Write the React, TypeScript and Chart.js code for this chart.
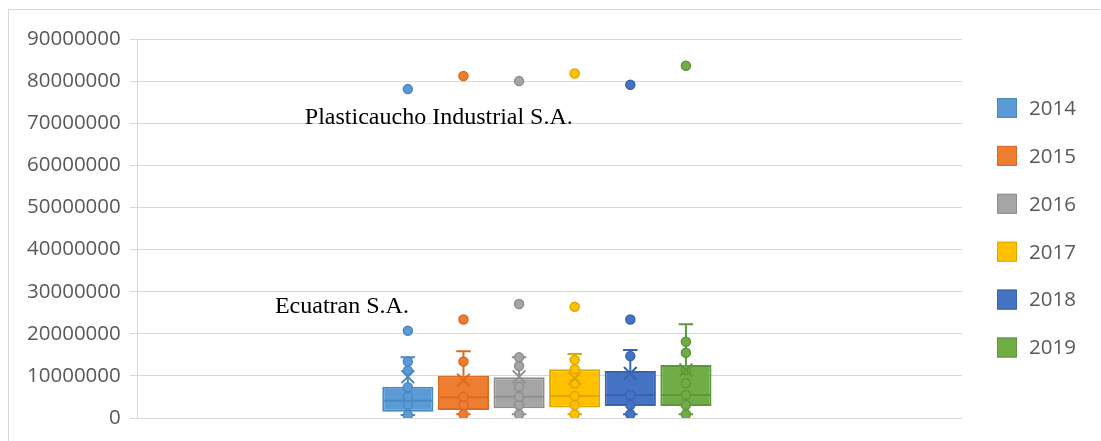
import React, { useEffect, useRef } from "react";
import { Chart, registerables } from "chart.js";

Chart.register(...registerables);

// ---------- data ----------
const years = ["2014", "2015", "2016", "2017", "2018", "2019"];
const positions = [1, 2, 3, 4, 5, 6];
const q1 = [1500000, 1900000, 2300000, 2500000, 2850000, 2850000];
const medians = [4100000, 4900000, 5060000, 5200000, 5460000, 5460000];
const q3 = [7430000, 10050000, 9670000, 11600000, 11160000, 12600000];
const whiskerMin = [700000, 870000, 870000, 870000, 870000, 870000];
const whiskerMax = [14400000, 15840000, 14400000, 15200000, 16150000, 22250000];
const means = [9800000, 9000000, 9800000, 9400000, 10600000, 11400000];
const innerPoints = [
  [700000, 3100000, 5060000, 7300000, 11200000, 13400000],
  [870000, 3100000, 5060000, 13400000],
  [870000, 3100000, 5060000, 7400000, 12350000, 14400000],
  [870000, 3100000, 5200000, 8200000, 11600000, 13800000],
  [870000, 3100000, 5460000, 14700000],
  [870000, 3100000, 5460000, 8240000, 11400000, 15500000, 18100000],
];
const outliers = [
  [20700000, 78100000],
  [23400000, 81200000],
  [27070000, 80000000],
  [26400000, 81800000],
  [23400000, 79150000],
  [83650000],
];
const yTickValues = [0, 10000000, 20000000, 30000000, 40000000, 50000000, 60000000, 70000000, 80000000, 90000000];
const annotationTexts = ["Plasticaucho Industrial S.A.", "Ecuatran S.A."];
const annotationX = [-0.852, -1.39];
const annotationY = [69800000, 25000000];

// ---------- styles ----------
const fillColors = ["#5B9BD5", "#ED7D31", "#A5A5A5", "#FFC000", "#4472C4", "#70AD47"];
const borderColors = ["#4A88C0", "#D96B22", "#8E8E8E", "#DDA800", "#3A63AD", "#5E973A"];
const capHalf = 0.13;
const medianHalf = 0.44;

const overlayPlugin = {
  id: "overlay",
  afterDatasetsDraw(chart: any) {
    const { ctx, scales } = chart;
    const x = scales.x;
    const y = scales.y;
    ctx.save();
    ctx.font = '24px "Liberation Serif"';
    ctx.fillStyle = "#000000";
    ctx.textBaseline = "alphabetic";
    ctx.textAlign = "left";
    annotationTexts.forEach((t, i) => {
      ctx.fillText(t, x.getPixelForValue(annotationX[i]), y.getPixelForValue(annotationY[i]));
    });
    // legend
    const boxX = chart.chartArea.right + 35;
    ctx.font = '20.5px "Open Sans"';
    ctx.textBaseline = "middle";
    years.forEach((yr, i) => {
      const cy = 98 + i * 47.9;
      ctx.fillStyle = fillColors[i];
      ctx.fillRect(boxX, cy - 10, 20, 20);
      ctx.strokeStyle = borderColors[i];
      ctx.lineWidth = 1;
      ctx.strokeRect(boxX + 0.5, cy - 9.5, 19, 19);
      ctx.fillStyle = "#595959";
      ctx.fillText(yr, boxX + 32, cy + 1);
    });
    ctx.restore();
  },
};

export default function App() {
  const ref = useRef<HTMLCanvasElement | null>(null);
  useEffect(() => {
    if (!ref.current) return;
    const datasets: any[] = [];
    years.forEach((yr, i) => {
      const p = positions[i];
      datasets.push({
        type: "bar",
        label: yr,
        data: [{ x: p, y: [q1[i], q3[i]] }],
        backgroundColor: fillColors[i],
        borderColor: borderColors[i],
        borderWidth: 2,
        borderSkipped: false,
        grouped: false,
        barPercentage: 0.92,
        categoryPercentage: 1,
        order: 5,
      });
      datasets.push({
        type: "line",
        label: yr + " whiskers",
        data: [
          { x: p - capHalf, y: whiskerMax[i] },
          { x: p + capHalf, y: whiskerMax[i] },
          { x: p, y: null },
          { x: p, y: whiskerMax[i] },
          { x: p, y: q3[i] },
          { x: p, y: null },
          { x: p, y: q1[i] },
          { x: p, y: whiskerMin[i] },
          { x: p, y: null },
          { x: p - capHalf, y: whiskerMin[i] },
          { x: p + capHalf, y: whiskerMin[i] },
          { x: p, y: null },
          { x: p - medianHalf, y: medians[i] },
          { x: p + medianHalf, y: medians[i] },
        ],
        borderColor: borderColors[i],
        borderWidth: 2,
        pointRadius: 0,
        spanGaps: false,
        fill: false,
        tension: 0,
        order: 4,
      });
      datasets.push({
        type: "scatter",
        label: yr + " points",
        data: [...innerPoints[i], ...outliers[i]].map((v) => ({ x: p, y: v })),
        backgroundColor: fillColors[i],
        borderColor: borderColors[i],
        borderWidth: 1.5,
        pointRadius: 4.5,
        order: 3,
      });
      datasets.push({
        type: "scatter",
        label: yr + " mean",
        data: [{ x: p, y: means[i] }],
        pointStyle: "crossRot",
        pointRadius: 9,
        borderColor: borderColors[i],
        borderWidth: 2,
        order: 2,
      });
    });
    const chart = new Chart(ref.current, {
      type: "bar",
      data: { datasets },
      plugins: [overlayPlugin],
      options: {
        animation: false,
        responsive: false,
        devicePixelRatio: 1,
        events: [],
        layout: { padding: { left: 9, right: 139, top: 29, bottom: 23 } },
        plugins: { legend: { display: false }, tooltip: { enabled: false } },
        scales: {
          x: {
            type: "linear",
            display: false,
            min: -3.856,
            max: 10.964,
            offset: false,
          },
          y: {
            type: "linear",
            min: 0,
            max: 90000000,
            afterBuildTicks: (scale: any) => {
              scale.ticks = yTickValues.map((v) => ({ value: v }));
            },
            ticks: {
              color: "#595959",
              font: { family: "Open Sans", size: 20.5 },
              padding: 9,
              callback: (v: any) => String(v),
            },
            grid: { color: "#D9D9D9", lineWidth: 1, drawTicks: true, tickLength: 8, tickColor: "#D9D9D9" },
            border: { display: true, color: "#D9D9D9", width: 1 },
          },
        },
      } as any,
    });
    return () => chart.destroy();
  }, []);
  return (
    <div
      style={{
        position: "absolute",
        left: 8,
        top: 9,
        width: 1093,
        height: 432,
        boxSizing: "border-box",
        borderTop: "1px solid #D9D9D9",
        borderLeft: "1px solid #D9D9D9",
        background: "#fff",
      }}
    >
      <canvas ref={ref} width={1092} height={431} style={{ display: "block" }} />
    </div>
  );
}
